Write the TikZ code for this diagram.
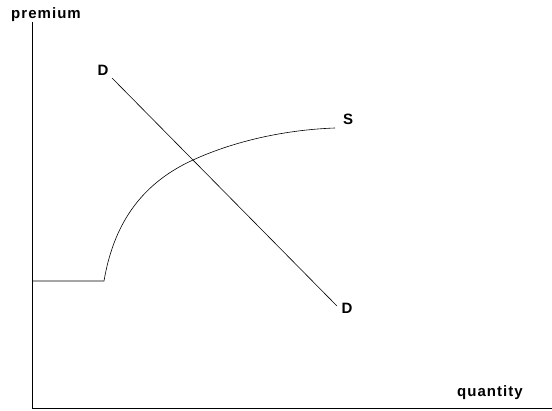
\documentclass[tikz,border=0pt]{standalone}
\usepackage{fontspec}
\setmainfont{Liberation Sans}[LetterSpace=7]
\usetikzlibrary{positioning}

\begin{document}
\begin{tikzpicture}[x=1pt,y=-1pt,
		lbl/.style={font=\fontsize{15}{17}\selectfont\bfseries, inner sep=0pt},
		curve/.style={line width=0.6pt}]
		\useasboundingbox (0,0) rectangle (552,411);
		
		% axes
		\coordinate (top) at (32,22);
		\coordinate (origin) at (32,408);
		\coordinate (right) at (552,408);
		\draw[curve] (top) -- (origin) -- (right);
		\node[lbl] (premium) at (46,15) {premium};
		\node[lbl] (quantity) at (490,393) {quantity};
		
		% demand line
		\node[lbl] (D1) at (103,70) {D};
		\node[lbl] (D2) at (347,308) {D};
		\coordinate (d1) at (112,78);
		\coordinate (d2) at (337,306);
		\draw[curve] (d1) -- (d2);
		
		% supply: flat part, then rising curve
		\node[lbl] (S) at (348,119) {S};
		\coordinate (s0) at (32,281);
		\coordinate (s1) at (104,281);
		\coordinate (eq) at (193,160);
		\coordinate (s2) at (335,128);
		\draw[curve] (s0) -- (s1) .. controls (113,228) and (138,185) .. (eq)
			.. controls (230,143) and (280,130) .. (s2);
	\end{tikzpicture}
\end{document}
